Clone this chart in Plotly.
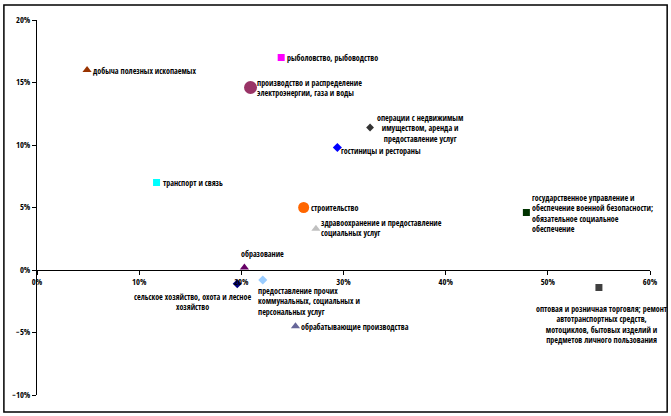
import plotly.graph_objects as go

# ---- data ----
categories = [
    "добыча полезных ископаемых",
    "рыболовство, рыбоводство",
    "производство и распределение<br>электроэнергии, газа и воды",
    "операции с недвижимым<br>имуществом, аренда и<br>предоставление услуг",
    "гостиницы и рестораны",
    "транспорт и связь",
    "строительство",
    "здравоохранение и предоставление<br>социальных услуг",
    "государственное управление и<br>обеспечение военной безопасности;<br>обязательное социальное<br>обеспечение",
    "образование",
    "сельское хозяйство, охота и лесное<br>хозяйство",
    "предоставление прочих<br>коммунальных, социальных и<br>персональных услуг",
    "обрабатывающие производства",
    "оптовая и розничная торговля; ремонт<br>автотранспортных средств,<br>мотоциклов, бытовых изделий и<br>предметов личного пользования",
]
x_values = [0.049, 0.239, 0.209, 0.326, 0.294, 0.117, 0.261, 0.273, 0.479, 0.203, 0.196, 0.221, 0.253, 0.550]
y_values = [0.160, 0.170, 0.146, 0.114, 0.098, 0.070, 0.050, 0.033, 0.046, 0.002, -0.011, -0.008, -0.045, -0.014]
x_ticks = [0, 0.1, 0.2, 0.3, 0.4, 0.5, 0.6]
y_ticks = [-0.10, -0.05, 0, 0.05, 0.10, 0.15, 0.20]

# ---- styles ----
symbols = ["triangle-up", "square", "circle", "diamond", "diamond", "square", "circle",
           "triangle-up", "square", "triangle-up", "diamond", "diamond", "triangle-up", "square"]
colors = ["#993300", "#FF00FF", "#993366", "#333333", "#0000FF", "#00FFFF", "#FF6600",
          "#C0C0C0", "#003300", "#660066", "#000080", "#99CCFF", "#666699", "#404040"]
sizes = [8, 7, 13, 6, 7, 7, 11, 8, 7, 8, 7, 7, 8, 7]
# (xanchor, yanchor, align, xshift, yshift)
label_pos = [
    ("left", "middle", "left", 5, 0),
    ("left", "middle", "left", 5, 0),
    ("left", "middle", "left", 5, 0),
    ("left", "middle", "center", 6, 0),
    ("left", "middle", "left", 3, -3),
    ("left", "middle", "left", 5, 0),
    ("left", "middle", "left", 6, 0),
    ("left", "middle", "left", 4, 1),
    ("left", "middle", "left", 5, 0),
    ("left", "bottom", "left", -4, 8),
    ("center", "top", "center", -45, -6),
    ("left", "top", "left", -6, -4),
    ("left", "middle", "left", 5, 0),
    ("center", "top", "center", 3, -14),
]

FONT = "Open Sans Condensed, DejaVu Sans Condensed, sans-serif"
FS = 8

fig = go.Figure()
for i in range(len(categories)):
    fig.add_trace(go.Scatter(
        x=[x_values[i]], y=[y_values[i]], mode="markers",
        marker=dict(symbol=symbols[i], color=colors[i], size=sizes[i], line=dict(width=0)),
        showlegend=False, hoverinfo="skip", cliponaxis=False,
    ))
    xa, ya, al, xs, ys = label_pos[i]
    fig.add_annotation(
        x=x_values[i], y=y_values[i], xref="x", yref="y", text=categories[i],
        showarrow=False, xanchor=xa, yanchor=ya, align=al, xshift=xs, yshift=ys,
        font=dict(family=FONT, size=FS, color="black"), borderpad=0,
    )

fig.add_shape(type="rect", xref="paper", yref="paper",
              x0=-0.054, x1=1.028, y0=-0.045, y1=1.04,
              line=dict(color="black", width=1.5), fillcolor="rgba(0,0,0,0)", layer="below")

fig.update_layout(
    width=671, height=416,
    margin=dict(l=37, r=21, t=20, b=21),
    paper_bgcolor="white", plot_bgcolor="white",
    font=dict(family=FONT, size=8.5, color="black"),
    xaxis=dict(range=[0, 0.6], tickvals=x_ticks, tickformat=".0%", showgrid=False,
               zeroline=False, showline=True, linecolor="black", linewidth=1,
               ticks="outside", ticklen=4, tickcolor="black", automargin=False,
               anchor="free", position=1/3, fixedrange=True),
    yaxis=dict(range=[-0.10, 0.20], tickvals=y_ticks, tickformat=".0%", showgrid=False,
               zeroline=False, showline=True, linecolor="black", linewidth=1,
               ticks="outside", ticklen=4, tickcolor="black", automargin=False,
               fixedrange=True),
)

fig.write_html("out.html", config={"displayModeBar": False},
               post_script="document.body.style.margin='0';")
